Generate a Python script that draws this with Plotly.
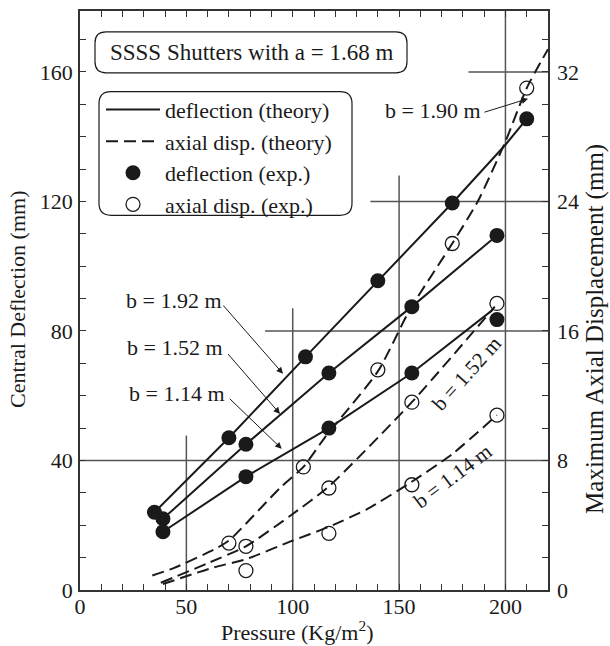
import plotly.graph_objects as go

FONT = "Liberation Serif"
INK = "#1a1a1a"
GRID = "#555555"

# ---------------- data ----------------
# Experimental central deflection (mm) - filled circles
p_defl_192 = [35, 70, 106, 140, 175, 210]
defl_192 = [24, 47, 72, 95.5, 119.5, 145.5]
p_defl_152 = [39, 78, 117, 156, 196]
defl_152 = [22, 45, 67, 87.5, 109.5]
p_defl_114 = [39, 78, 117, 156, 196]
defl_114 = [18, 35, 50, 67, 83.5]

# Experimental maximum axial displacement (mm) - open circles
p_ax_190 = [70, 105, 140, 175, 210]
ax_190 = [2.9, 7.6, 13.6, 21.4, 31.0]
p_ax_152 = [78, 117, 156, 196]
ax_152 = [2.7, 6.3, 11.6, 17.7]
p_ax_114 = [78, 117, 156, 196]
ax_114 = [1.2, 3.5, 6.5, 10.8]

# Theory: central deflection (mm) - solid lines
pt_defl_192 = [35, 70, 106, 140, 175, 200, 210]
t_defl_192 = [24, 47, 72, 95.5, 119.5, 137.5, 145.5]
pt_defl_152 = [39, 78, 117, 156, 196]
t_defl_152 = [22, 45, 67, 87.5, 109.5]
pt_defl_114 = [39, 78, 117, 156, 194]
t_defl_114 = [18, 35, 50, 67, 86.5]

# Theory: maximum axial displacement (mm) - dashed lines
pt_ax_190 = [34, 44, 63, 70, 94, 105, 115, 140, 155, 175, 187, 200, 210, 220]
t_ax_190 = [0.9, 1.35, 2.5, 3.05, 6.3, 7.6, 9.4, 13.5, 17.3, 21.4, 24.0, 27.7, 31.0, 33.4]
pt_ax_152 = [38, 60, 78, 99, 117, 156, 195]
t_ax_152 = [0.45, 1.65, 2.7, 4.6, 6.4, 11.6, 17.5]
pt_ax_114 = [39, 63, 78, 99, 117, 135, 155, 175, 196]
t_ax_114 = [0.37, 1.4, 1.9, 3.0, 3.9, 5.0, 6.6, 8.4, 10.8]

# Axes
x_range = [0, 220]
y_range = [0, 178.8]
y2_range = [0, 178.8 / 5]
x_tickvals = list(range(0, 221, 10))
x_ticktext = [str(v) if v % 50 == 0 else "" for v in x_tickvals]
y_tickvals = list(range(0, 171, 10))
y_ticktext = [str(v) if v % 40 == 0 else "" for v in y_tickvals]
y2_tickvals = [0, 8, 16, 24, 32]

# ---------------- figure ----------------
fig = go.Figure()

solid = dict(color=INK, width=2)
dashed = dict(color=INK, width=2, dash="12px,6px")
filled = dict(color=INK, size=15, symbol="circle")
hollow = dict(color=INK, size=14, symbol="circle-open", line=dict(width=1.3, color=INK))

groups = [
    (pt_defl_192, t_defl_192, pt_ax_190, t_ax_190, p_defl_192, defl_192, p_ax_190, ax_190, True),
    (pt_defl_152, t_defl_152, pt_ax_152, t_ax_152, p_defl_152, defl_152, p_ax_152, ax_152, False),
    (pt_defl_114, t_defl_114, pt_ax_114, t_ax_114, p_defl_114, defl_114, p_ax_114, ax_114, False),
]

for (ptd, td, pta, ta, pd, dd, pa, aa, leg) in groups:
    fig.add_trace(go.Scatter(x=ptd, y=td, mode="lines", line=solid,
                             name="deflection (theory)", showlegend=leg, legendrank=1))
    fig.add_trace(go.Scatter(x=pta, y=ta, mode="lines", line=dict(dashed, shape="spline", smoothing=0.6),
                             yaxis="y2", name="axial disp. (theory)", showlegend=leg, legendrank=2))
    fig.add_trace(go.Scatter(x=pd, y=dd, mode="markers", marker=filled,
                             name="deflection (exp.)", showlegend=leg, legendrank=3))
    fig.add_trace(go.Scatter(x=pa, y=aa, mode="markers", marker=hollow, yaxis="y2",
                             name="axial disp. (exp.)", showlegend=leg, legendrank=4))

# plot area in pixels
L, R, T, B = 80, 548, 9, 590
W, H = R - L, B - T


def px(xp):
    return (xp - L) / W


def py(yp):
    return (B - yp) / H


def dx(xp):
    return (xp - L) / W * (x_range[1] - x_range[0])


def dy(yp):
    return (B - yp) / H * (y_range[1] - y_range[0])


def rounded_rect(x0, y0, x1, y1, r):
    X0, X1 = px(x0), px(x1)
    Y0, Y1 = py(y0), py(y1)
    rx, ry = r / W, r / H
    return (f"M{X0+rx},{Y0} L{X1-rx},{Y0} Q{X1},{Y0} {X1},{Y0-ry} "
            f"L{X1},{Y1+ry} Q{X1},{Y1} {X1-rx},{Y1} L{X0+rx},{Y1} "
            f"Q{X0},{Y1} {X0},{Y1+ry} L{X0},{Y0-ry} Q{X0},{Y0} {X0+rx},{Y0} Z")


shapes = []
# staggered grid lines
for (x0, x1, y0, y1) in [(0, 220, 40, 40), (87, 220, 80, 80), (136.5, 220, 120, 120),
                         (182.6, 220, 160, 160), (50, 50, 0, 47.7), (100, 100, 0, 87),
                         (150, 150, 0, 128), (200, 200, 0, 178.8)]:
    shapes.append(dict(type="line", xref="x", yref="y", x0=x0, x1=x1, y0=y0, y1=y1,
                       line=dict(color=GRID, width=1.5), layer="below"))
# title box and legend box
shapes.append(dict(type="path", xref="paper", yref="paper", path=rounded_rect(95, 30, 407, 71, 11),
                   line=dict(color=INK, width=1.2), fillcolor="white", layer="below"))
shapes.append(dict(type="path", xref="paper", yref="paper", path=rounded_rect(99, 90, 352, 214, 12),
                   line=dict(color=INK, width=1.2), fillcolor="white", layer="below"))

tf = dict(family=FONT, size=22, color=INK)
C = dict(xanchor="center", yanchor="middle", showarrow=False)
annotations = [
    dict(C, text="SSSS Shutters with a = 1.68 m", xref="paper", yref="paper", x=px(251), y=py(50.5),
         font=dict(tf, size=23)),
    dict(C, text="Central Deflection (mm)", xref="paper", yref="paper", x=px(17), y=py(299),
         textangle=-90, font=tf),
    dict(C, text="Maximum Axial Displacement (mm)", xref="paper", yref="paper", x=px(595), y=py(328),
         textangle=-90, font=dict(tf, size=25)),
    dict(C, text="Pressure (Kg/m<sup>2</sup>)", xref="paper", yref="paper", x=px(297), y=py(631),
         font=tf),
    dict(C, text="b = 1.52 m", xref="x", yref="y", x=181.5, y=66.8, textangle=-48,
         font=dict(tf, size=21)),
    dict(C, text="b = 1.14 m", xref="x", yref="y", x=175.3, y=35.2, textangle=-37,
         font=dict(tf, size=21)),
]
# arrow labels: (label, text centre px x, text centre px y, tail px x, tail px y, head px x, head px y)
for (label, cx, cy, tx, ty, hx, hy) in [("b = 1.92 m", 173.5, 299, 222, 303, 283, 373),
                                        ("b = 1.52 m", 174.5, 347, 226.7, 351.7, 280, 413.3),
                                        ("b = 1.14 m", 177, 393, 228.3, 396.7, 281.7, 448.3),
                                        ("b = 1.90 m", 432.5, 109, 483, 111, 528, 97)]:
    annotations.append(dict(C, text=label, xref="paper", yref="paper", x=px(cx), y=py(cy), font=tf))
    annotations.append(dict(text="", x=dx(hx), y=dy(hy), xref="x", yref="y",
                            ax=dx(tx), ay=dy(ty), axref="x", ayref="y",
                            showarrow=True, arrowhead=2, arrowsize=1.3, arrowwidth=1,
                            arrowcolor=INK))

axis_common = dict(showgrid=False, zeroline=False, showline=True, linecolor="#333333", linewidth=1.5,
                   ticks="inside", ticklen=6, tickwidth=1.2, tickcolor="#333333",
                   tickfont=dict(family=FONT, size=22, color=INK), mirror="ticks")

fig.update_layout(
    width=610, height=646,
    margin=dict(l=L, r=610 - R, t=T, b=646 - B),
    paper_bgcolor="white", plot_bgcolor="white",
    font=dict(family=FONT, color=INK),
    xaxis=dict(axis_common, range=x_range, tickvals=x_tickvals, ticktext=x_ticktext,
               ticklabelstandoff=-4),
    yaxis=dict(axis_common, range=y_range, tickvals=y_tickvals, ticktext=y_ticktext,
               ticklabelstandoff=1),
    yaxis2=dict(overlaying="y", side="right", range=y2_range, tickvals=y2_tickvals,
                showgrid=False, zeroline=False, showline=False, ticks="",
                tickfont=dict(family=FONT, size=22, color=INK), ticklabelstandoff=8),
    legend=dict(x=px(101), y=py(87), xanchor="left", yanchor="top",
                font=dict(family=FONT, size=22, color=INK), bgcolor="rgba(0,0,0,0)",
                borderwidth=0, itemwidth=54, tracegroupgap=0, itemclick=False, itemdoubleclick=False),
    shapes=shapes,
    annotations=annotations,
    showlegend=True,
)

fig.write_html("out.html", config={"displayModeBar": False},
               post_script="document.body.style.margin='0';document.body.style.overflow='hidden';")
